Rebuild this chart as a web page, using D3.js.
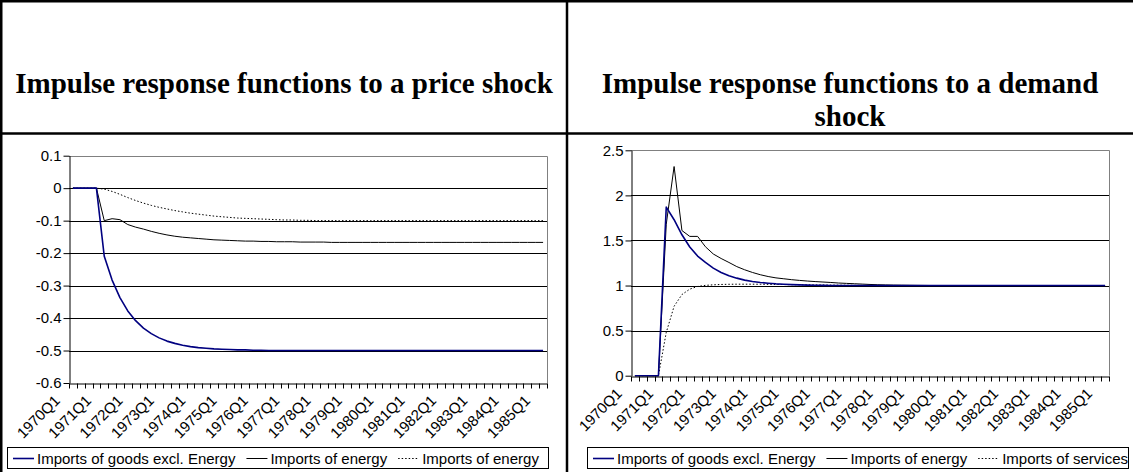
<!DOCTYPE html>
<html>
<head>
<meta charset="utf-8">
<script src="https://cdn.jsdelivr.net/npm/d3@7"></script>
<style>
body { margin: 0; background: #fff; }
svg { display: block; }
</style>
</head>
<body>
<script>
var w = 1133;
var h = 472;

// quarters on the category axis
var categories = [
    "1970Q1", "1970Q2", "1970Q3", "1970Q4", "1971Q1", "1971Q2", "1971Q3", "1971Q4",
    "1972Q1", "1972Q2", "1972Q3", "1972Q4", "1973Q1", "1973Q2", "1973Q3", "1973Q4",
    "1974Q1", "1974Q2", "1974Q3", "1974Q4", "1975Q1", "1975Q2", "1975Q3", "1975Q4",
    "1976Q1", "1976Q2", "1976Q3", "1976Q4", "1977Q1", "1977Q2", "1977Q3", "1977Q4",
    "1978Q1", "1978Q2", "1978Q3", "1978Q4", "1979Q1", "1979Q2", "1979Q3", "1979Q4",
    "1980Q1", "1980Q2", "1980Q3", "1980Q4", "1981Q1", "1981Q2", "1981Q3", "1981Q4",
    "1982Q1", "1982Q2", "1982Q3", "1982Q4", "1983Q1", "1983Q2", "1983Q3", "1983Q4",
    "1984Q1", "1984Q2", "1984Q3", "1984Q4", "1985Q1"
];
var xLabels = ["1970Q1", "1971Q1", "1972Q1", "1973Q1", "1974Q1", "1975Q1", "1976Q1", "1977Q1",
    "1978Q1", "1979Q1", "1980Q1", "1981Q1", "1982Q1", "1983Q1", "1984Q1", "1985Q1"];

// price shock
var priceGoods = [0, 0, 0, 0, -0.21, -0.283, -0.337, -0.378, -0.408, -0.431, -0.448, -0.461,
    -0.471, -0.478, -0.484, -0.488, -0.491, -0.493, -0.495, -0.496, -0.497, -0.498, -0.498, -0.499,
    -0.499, -0.5, -0.5, -0.5, -0.5, -0.5, -0.5, -0.5, -0.5, -0.5, -0.5, -0.5, -0.5, -0.5, -0.5,
    -0.5, -0.5, -0.5, -0.5, -0.5, -0.5, -0.5, -0.5, -0.5, -0.5, -0.5, -0.5, -0.5, -0.5, -0.5,
    -0.5, -0.5, -0.5, -0.5, -0.5, -0.5, -0.5];
var priceEnergy = [0, 0, 0, 0, -0.1, -0.094, -0.097, -0.112, -0.12, -0.126, -0.133, -0.139,
    -0.144, -0.148, -0.151, -0.153, -0.155, -0.157, -0.159, -0.16, -0.161, -0.162, -0.163, -0.163,
    -0.164, -0.164, -0.165, -0.165, -0.165, -0.166, -0.166, -0.166, -0.166, -0.167, -0.167, -0.167,
    -0.167, -0.167, -0.167, -0.167, -0.167, -0.167, -0.167, -0.167, -0.167, -0.167, -0.167, -0.167,
    -0.167, -0.167, -0.167, -0.167, -0.167, -0.167, -0.167, -0.167, -0.167, -0.167, -0.167, -0.167, -0.167];
var priceEnergy2 = [0, 0, 0, 0, -0.003, -0.01, -0.019, -0.029, -0.038, -0.046, -0.053, -0.059,
    -0.064, -0.069, -0.073, -0.077, -0.08, -0.083, -0.086, -0.088, -0.09, -0.092, -0.093, -0.094,
    -0.095, -0.096, -0.097, -0.098, -0.098, -0.099, -0.099, -0.1, -0.1, -0.1, -0.1, -0.1, -0.1,
    -0.1, -0.1, -0.1, -0.1, -0.1, -0.1, -0.1, -0.1, -0.1, -0.1, -0.1, -0.1, -0.1, -0.1, -0.1,
    -0.1, -0.1, -0.1, -0.1, -0.1, -0.1, -0.1, -0.1, -0.1];
var priceTicks = [0.1, 0, -0.1, -0.2, -0.3, -0.4, -0.5, -0.6];
var priceTickLabels = ["0.1", "0", "-0.1", "-0.2", "-0.3", "-0.4", "-0.5", "-0.6"];
var priceNames = ["Imports of goods excl. Energy", "Imports of energy", "Imports of energy"];
var priceTitle = ["Impulse response functions to a price shock"];

// demand shock
var demandGoods = [0, 0, 0, 0, 1.87, 1.73, 1.563, 1.427, 1.327, 1.256, 1.193, 1.145, 1.108,
    1.082, 1.06, 1.045, 1.034, 1.026, 1.019, 1.014, 1.01, 1.007, 1.005, 1.003, 1.002, 1.001, 1, 1,
    1, 1, 1, 1, 1, 1, 1, 1, 1, 1, 1, 1, 1, 1, 1, 1, 1, 1, 1, 1, 1, 1, 1, 1, 1, 1, 1, 1, 1, 1, 1, 1, 1];
var demandEnergy = [0, 0, 0, 0, 1.68, 2.32, 1.61, 1.545, 1.545, 1.43, 1.35, 1.3, 1.256, 1.21,
    1.175, 1.145, 1.12, 1.1, 1.085, 1.075, 1.065, 1.057, 1.05, 1.044, 1.039, 1.034, 1.028, 1.024,
    1.02, 1.016, 1.012, 1.009, 1.007, 1.005, 1.004, 1.003, 1.002, 1.001, 1, 1, 1, 1, 1, 1, 1, 1, 1,
    1, 1, 1, 1, 1, 1, 1, 1, 1, 1, 1, 1, 1, 1];
var demandServices = [0, 0, 0, 0, 0.48, 0.77, 0.9, 0.96, 0.99, 1.002, 1.008, 1.012, 1.014,
    1.015, 1.015, 1.015, 1.014, 1.013, 1.012, 1.011, 1.01, 1.009, 1.008, 1.007, 1.006, 1.005, 1.004,
    1.003, 1.002, 1.001, 1, 1, 1, 1, 1, 1, 1, 1, 1, 1, 1, 1, 1, 1, 1, 1, 1, 1, 1, 1, 1, 1, 1, 1, 1,
    1, 1, 1, 1, 1, 1];
var demandTicks = [2.5, 2, 1.5, 1, 0.5, 0];
var demandTickLabels = ["2.5", "2", "1.5", "1", "0.5", "0"];
var demandNames = ["Imports of goods excl. Energy", "Imports of energy", "Imports of services"];
var demandTitle = ["Impulse response functions to a demand", "shock"];

var seriesStyle = [
    {color: "#000080", width: 1.6, dash: null},
    {color: "#000000", width: 1, dash: null},
    {color: "#000000", width: 1, dash: "1.5,2"}
];

var sans = "'Liberation Sans', Arial, sans-serif";
var serif = "'Liberation Serif', 'Times New Roman', serif";

var svg = d3.select("body")
    .append("svg")
    .attr("width", w)
    .attr("height", h);

svg.append("rect").attr("width", w).attr("height", h).attr("fill", "#fff");

// table frame
var frame = svg.append("g").attr("stroke", "#000").attr("stroke-width", 2.5);
frame.append("line").attr("x1", 0).attr("x2", w).attr("y1", 1.25).attr("y2", 1.25);
frame.append("line").attr("x1", 0).attr("x2", w).attr("y1", 133.5).attr("y2", 133.5);
frame.append("line").attr("x1", 1.25).attr("x2", 1.25).attr("y1", 0).attr("y2", h);
frame.append("line").attr("x1", 567).attr("x2", 567).attr("y1", 0).attr("y2", h);

function drawPanel(p) {
    var g = svg.append("g");

    // title
    g.selectAll("text.title")
        .data(p.title)
        .enter()
        .append("text")
        .attr("class", "title")
        .text(function (d) { return d; })
        .attr("x", p.titleX)
        .attr("y", function (d, i) { return p.titleY + i * 33; })
        .attr("text-anchor", "middle")
        .attr("font-family", serif)
        .attr("font-weight", "bold")
        .attr("font-size", 29);

    var x = d3.scaleBand().domain(categories).range([p.left, p.right]);
    var y = d3.scaleLinear().domain([p.ticks[p.ticks.length - 1], p.ticks[0]]).range([p.bottom, p.top]);

    // gridlines
    g.selectAll("line.grid")
        .data(p.ticks.slice(1, -1))
        .enter()
        .append("line")
        .attr("x1", p.left)
        .attr("x2", p.right)
        .attr("y1", function (d) { return Math.round(y(d)) + 0.5; })
        .attr("y2", function (d) { return Math.round(y(d)) + 0.5; })
        .attr("stroke", "#000");

    // plot border
    g.append("path")
        .attr("d", "M" + p.left + "," + (Math.round(p.top) + 0.5) + "H" + (Math.round(p.right) + 0.5) + "V" + p.bottom)
        .attr("fill", "none")
        .attr("stroke", "#808080");

    // series
    var line = d3.line()
        .x(function (d, i) { return x(categories[i]) + x.bandwidth() / 2; })
        .y(function (d) { return y(d); });

    g.selectAll("path.series")
        .data(p.series.slice().reverse())
        .enter()
        .append("path")
        .attr("class", "series")
        .attr("d", function (d) { return line(d); })
        .attr("fill", "none")
        .attr("stroke", function (d, i) { return seriesStyle[2 - i].color; })
        .attr("stroke-width", function (d, i) { return seriesStyle[2 - i].width; })
        .attr("stroke-dasharray", function (d, i) { return seriesStyle[2 - i].dash; })
        .attr("stroke-linejoin", "round");

    // y axis
    var yAxis = g.append("g")
        .attr("transform", "translate(" + (Math.round(p.left) + 0.5) + ",0)")
        .call(d3.axisLeft(y)
            .tickValues(p.ticks)
            .tickFormat(function (d, i) { return p.tickLabels[i]; })
            .tickSize(6)
            .tickSizeOuter(0)
            .tickPadding(2));
    yAxis.selectAll("text").attr("font-family", sans).attr("font-size", 15).attr("fill", "#000");
    yAxis.select(".domain").attr("stroke", "#000");
    yAxis.selectAll(".tick line").attr("stroke", "#000");

    // x axis
    var xAxis = g.append("g")
        .attr("transform", "translate(0," + (Math.round(p.bottom) + 0.5) + ")")
        .call(d3.axisBottom(x)
            .tickValues(xLabels)
            .tickSize(0)
            .tickSizeOuter(0));
    xAxis.select(".domain").attr("stroke", "#000");
    xAxis.selectAll("text")
        .attr("font-family", sans)
        .attr("font-size", 15)
        .attr("fill", "#000")
        .attr("x", 0)
        .attr("y", 0)
        .attr("dy", 0)
        .attr("text-anchor", "end")
        .attr("transform", "translate(-12,18) rotate(-45)");

    xAxis.selectAll("line.qtick")
        .data(d3.range(categories.length + 1))
        .enter()
        .append("line")
        .attr("class", "qtick")
        .attr("x1", function (i) { return Math.round(i < categories.length ? x(categories[i]) : p.right) + 0.5; })
        .attr("x2", function (i) { return Math.round(i < categories.length ? x(categories[i]) : p.right) + 0.5; })
        .attr("y1", 0)
        .attr("y2", 5)
        .attr("stroke", "#000");

    // legend
    var lg = g.append("g").attr("transform", "translate(" + p.legendX + "," + p.legendY + ")");
    lg.append("rect")
        .attr("x", 0.5)
        .attr("y", 0.5)
        .attr("width", p.legendW)
        .attr("height", 21)
        .attr("fill", "#fff")
        .attr("stroke", "#000");
    var cx = 6;
    p.names.forEach(function (name, i) {
        lg.append("line")
            .attr("x1", cx)
            .attr("x2", cx + 21)
            .attr("y1", 11.5)
            .attr("y2", 11.5)
            .attr("stroke", seriesStyle[i].color)
            .attr("stroke-width", seriesStyle[i].width)
            .attr("stroke-dasharray", seriesStyle[i].dash);
        var t = lg.append("text")
            .text(name)
            .attr("x", cx + 24)
            .attr("y", 16.5)
            .attr("font-family", sans)
            .attr("font-size", 15)
            .attr("fill", "#000");
        cx = cx + 24 + t.node().getComputedTextLength() + 11;
    });
}

drawPanel({
    title: priceTitle, titleX: 284, titleY: 93,
    left: 69, right: 547, top: 155.7, bottom: 383,
    ticks: priceTicks, tickLabels: priceTickLabels,
    series: [priceGoods, priceEnergy, priceEnergy2],
    names: priceNames,
    legendX: 7, legendY: 447, legendW: 541
});

drawPanel({
    title: demandTitle, titleX: 850, titleY: 93,
    left: 631, right: 1109, top: 150.3, bottom: 375.7,
    ticks: demandTicks, tickLabels: demandTickLabels,
    series: [demandGoods, demandEnergy, demandServices],
    names: demandNames,
    legendX: 587, legendY: 447, legendW: 541
});
</script>
</body>
</html>
